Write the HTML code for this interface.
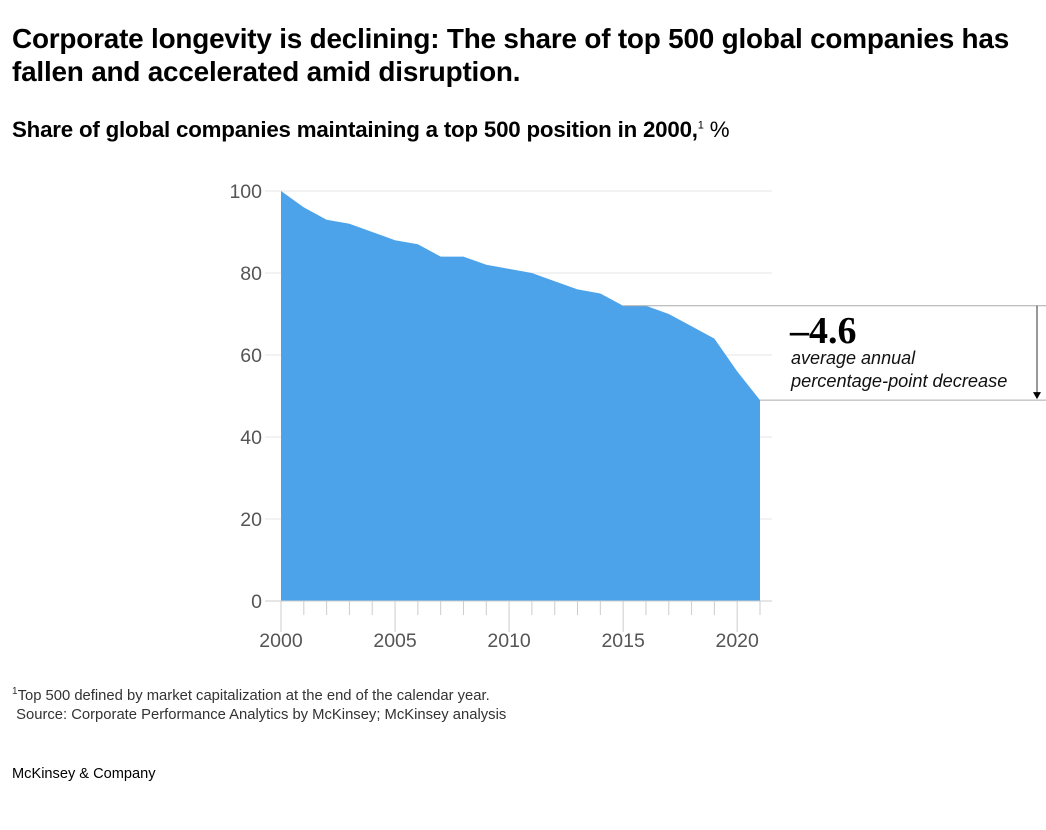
<!DOCTYPE html>
<html><head><meta charset="utf-8"><style>
body{margin:0;background:#fff;width:1046px;height:830px;overflow:hidden;font-family:"Liberation Sans",sans-serif;position:relative}
.t{position:absolute;left:12px;top:22px;font-size:27.9px;font-weight:bold;line-height:33px;color:#000;white-space:nowrap;letter-spacing:-0.2px}
.s{position:absolute;left:12px;top:117px;font-size:22.3px;font-weight:bold;color:#000;letter-spacing:-0.2px}
.fn{position:absolute;left:12px;top:682px;font-size:14.8px;color:#333;line-height:19px}
.brand{position:absolute;left:12px;top:766px;font-size:14.6px;color:#000}
svg{position:absolute;left:0;top:0}
</style></head><body>
<div class="t">Corporate longevity is declining: The share of top 500 global companies has<br>fallen and accelerated amid disruption.</div>
<div class="s">Share of global companies maintaining a top 500 position in 2000,<sup style="font-size:11px;font-weight:normal">1</sup> <span style="font-weight:normal">%</span></div>
<svg width="1046" height="830" id="chart"></svg>
<div class="fn"><sup style="font-size:10px">1</sup>Top 500 defined by market capitalization at the end of the calendar year.<br>&nbsp;Source: Corporate Performance Analytics by McKinsey; McKinsey analysis</div>
<div class="brand">McKinsey &amp; Company</div>
<script>
const years=[2000,2001,2002,2003,2004,2005,2006,2007,2008,2009,2010,2011,2012,2013,2014,2015,2016,2017,2018,2019,2020,2021];
const shares=[100,96,93,92,90,88,87,84,84,82,81,80,78,76,75,72,72,70,67,64,56,49];
const yTicks=[0,20,40,60,80,100];
const xLabels=[2000,2005,2010,2015,2020];
const annotationValue="\u20134.6";
const NS="http://www.w3.org/2000/svg";
const svg=document.getElementById('chart');
const X=y=>281+(y-2000)*(760-281)/21;
const Y=v=>601-v*4.1;
function mk(tag,attrs,txt){const e=document.createElementNS(NS,tag);for(const k in attrs)e.setAttribute(k,attrs[k]);if(txt!==undefined)e.textContent=txt;svg.appendChild(e);return e;}
yTicks.forEach(v=>{
  if(v>0){const g=mk('line',{x1:265,x2:772,y1:Y(v),y2:Y(v),stroke:'#e6e6e6','stroke-width':1});
  
  }
  const t=mk('text',{x:262,y:Y(v)+7,'text-anchor':'end','font-size':19.5,fill:'#555'},v);
  
  
});
let d='M'+X(years[0])+','+Y(0);
years.forEach((y,i)=>{d+=' L'+X(y)+','+Y(shares[i]);});
d+=' L'+X(years[years.length-1])+','+Y(0)+' Z';
const area=mk('path',{d:d,fill:'#4da3ea'});


const ax=mk('line',{x1:265,x2:772,y1:Y(0),y2:Y(0),stroke:'#ccc','stroke-width':1});


years.forEach(y=>{
  const major=(y%5===0);
  const tk=mk('line',{x1:X(y),x2:X(y),y1:Y(0),y2:major?632:615,stroke:'#ccc','stroke-width':1});
  
  
});
xLabels.forEach(y=>{
  const t=mk('text',{x:X(y),y:647,'text-anchor':'middle','font-size':19.5,fill:'#555'},y);
  
  
});
const i15=years.indexOf(2015),last=shares.length-1;
const l1=mk('line',{x1:X(2015),x2:1046,y1:Y(shares[i15]),y2:Y(shares[i15]),stroke:'#aaa','stroke-width':1});


const l2=mk('line',{x1:X(years[last]),x2:1046,y1:Y(shares[last]),y2:Y(shares[last]),stroke:'#aaa','stroke-width':1});


const ar=mk('line',{x1:1037,x2:1037,y1:Y(shares[i15]),y2:Y(shares[last])-6,stroke:'#333','stroke-width':1});


const ah=mk('path',{d:`M1033,${Y(shares[last])-8} L1041,${Y(shares[last])-8} L1037,${Y(shares[last])-1} Z`,fill:'#000'});


const av=mk('text',{x:790,y:343,'font-size':38,'font-weight':'bold','font-family':'Liberation Serif, serif',fill:'#000'},annotationValue);


const a1=mk('text',{x:791,y:364,'font-size':18,'font-style':'italic',fill:'#111'},'average annual');


const a2=mk('text',{x:791,y:387,'font-size':18.2,'font-style':'italic',fill:'#111'},'percentage-point decrease');


</script>
</body></html>
